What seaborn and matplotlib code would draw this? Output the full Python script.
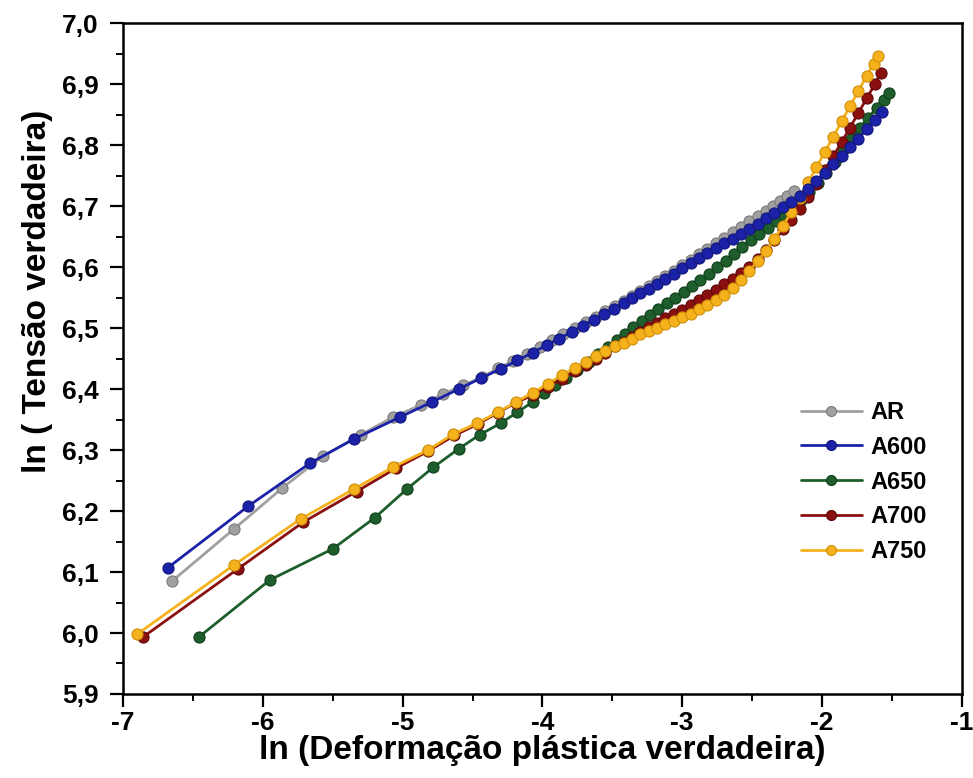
import matplotlib
matplotlib.use("Agg")
import matplotlib.pyplot as plt
import seaborn as sns
import numpy as np
from matplotlib.ticker import MultipleLocator, FixedLocator, FixedFormatter

# ---------------- data ----------------
ar_x = [-6.65, -6.21, -5.86, -5.57, -5.30, -5.07, -4.87, -4.71, -4.57, -4.43, -4.32,
        -4.21, -4.11, -4.02, -3.93, -3.85, -3.77, -3.69, -3.62, -3.55, -3.48, -3.42,
        -3.36, -3.30, -3.24, -3.18, -3.12, -3.06, -3.00, -2.94, -2.88, -2.82, -2.76,
        -2.70, -2.64, -2.58, -2.52, -2.46, -2.40, -2.35, -2.30, -2.25, -2.20]
ar_y = [6.085, 6.170, 6.238, 6.290, 6.325, 6.354, 6.374, 6.392, 6.406, 6.420, 6.434,
        6.446, 6.458, 6.469, 6.480, 6.490, 6.500, 6.510, 6.519, 6.528, 6.537, 6.545,
        6.553, 6.561, 6.569, 6.577, 6.585, 6.594, 6.603, 6.612, 6.621, 6.630, 6.639,
        6.648, 6.657, 6.666, 6.675, 6.684, 6.693, 6.701, 6.709, 6.717, 6.725]

a600_x = [-6.68, -6.105, -5.66, -5.35, -5.02, -4.79, -4.60, -4.44, -4.30, -4.18, -4.07,
          -3.97, -3.88, -3.79, -3.71, -3.63, -3.56, -3.49, -3.42, -3.36, -3.30, -3.24,
          -3.18, -3.12, -3.06, -3.00, -2.94, -2.88, -2.82, -2.76, -2.70, -2.64, -2.58,
          -2.52, -2.46, -2.40, -2.34, -2.28, -2.22, -2.16, -2.10, -2.04, -1.98, -1.92,
          -1.86, -1.80, -1.74, -1.68, -1.62, -1.57]
a600_y = [6.107, 6.208, 6.279, 6.318, 6.354, 6.379, 6.400, 6.418, 6.433, 6.447, 6.460,
          6.472, 6.483, 6.494, 6.504, 6.514, 6.523, 6.532, 6.541, 6.549, 6.557, 6.565,
          6.573, 6.581, 6.589, 6.598, 6.607, 6.615, 6.623, 6.631, 6.639, 6.647, 6.655,
          6.663, 6.671, 6.680, 6.689, 6.698, 6.707, 6.716, 6.728, 6.741, 6.755, 6.769,
          6.783, 6.797, 6.811, 6.826, 6.841, 6.855]

a650_x = [-6.46, -5.95, -5.50, -5.20, -4.97, -4.78, -4.60, -4.45, -4.30, -4.18, -4.07,
          -3.99, -3.91, -3.83, -3.75, -3.67, -3.60, -3.53, -3.47, -3.41, -3.35, -3.29,
          -3.23, -3.17, -3.11, -3.05, -2.99, -2.93, -2.87, -2.81, -2.75, -2.69, -2.63,
          -2.57, -2.51, -2.45, -2.39, -2.33, -2.27, -2.21, -2.15, -2.09, -2.03, -1.97,
          -1.91, -1.85, -1.79, -1.73, -1.67, -1.61, -1.56, -1.52]
a650_y = [5.993, 6.087, 6.138, 6.189, 6.236, 6.272, 6.302, 6.325, 6.344, 6.362, 6.379,
          6.393, 6.406, 6.419, 6.432, 6.445, 6.457, 6.469, 6.480, 6.491, 6.502, 6.512,
          6.522, 6.532, 6.541, 6.550, 6.560, 6.569, 6.579, 6.589, 6.600, 6.611, 6.622,
          6.633, 6.644, 6.654, 6.664, 6.675, 6.686, 6.698, 6.711, 6.724, 6.738, 6.754,
          6.773, 6.792, 6.811, 6.829, 6.845, 6.861, 6.874, 6.885]

a700_x = [-6.86, -6.18, -5.71, -5.33, -5.05, -4.82, -4.63, -4.46, -4.32, -4.19, -4.07,
          -3.96, -3.86, -3.77, -3.69, -3.62, -3.55, -3.48, -3.42, -3.36, -3.30, -3.24,
          -3.18, -3.12, -3.06, -3.00, -2.94, -2.88, -2.82, -2.76, -2.70, -2.64, -2.58,
          -2.52, -2.46, -2.40, -2.34, -2.28, -2.22, -2.16, -2.10, -2.04, -1.98, -1.92,
          -1.86, -1.80, -1.74, -1.68, -1.62, -1.58]
a700_y = [5.993, 6.105, 6.182, 6.232, 6.270, 6.298, 6.324, 6.343, 6.361, 6.378, 6.390,
          6.404, 6.417, 6.429, 6.440, 6.450, 6.460, 6.470, 6.478, 6.486, 6.494, 6.502,
          6.509, 6.516, 6.523, 6.530, 6.538, 6.546, 6.554, 6.563, 6.572, 6.581, 6.590,
          6.601, 6.614, 6.629, 6.645, 6.662, 6.678, 6.696, 6.715, 6.737, 6.760, 6.782,
          6.805, 6.829, 6.853, 6.877, 6.901, 6.918]

a750_x = [-6.90, -6.21, -5.73, -5.35, -5.07, -4.82, -4.64, -4.47, -4.32, -4.19, -4.07,
          -3.96, -3.86, -3.77, -3.69, -3.62, -3.55, -3.48, -3.42, -3.36, -3.30, -3.24,
          -3.18, -3.12, -3.06, -3.00, -2.94, -2.88, -2.82, -2.76, -2.70, -2.64, -2.58,
          -2.52, -2.46, -2.40, -2.34, -2.28, -2.22, -2.16, -2.10, -2.04, -1.98, -1.92,
          -1.86, -1.80, -1.74, -1.68, -1.63, -1.60]
a750_y = [5.998, 6.111, 6.187, 6.236, 6.272, 6.300, 6.326, 6.344, 6.362, 6.379, 6.394,
          6.409, 6.423, 6.435, 6.445, 6.454, 6.462, 6.470, 6.476, 6.483, 6.490, 6.496,
          6.501, 6.507, 6.512, 6.518, 6.524, 6.531, 6.538, 6.546, 6.555, 6.566, 6.579,
          6.594, 6.610, 6.627, 6.647, 6.668, 6.690, 6.714, 6.739, 6.764, 6.789, 6.814,
          6.839, 6.864, 6.889, 6.914, 6.934, 6.947]

series_names = ["AR", "A600", "A650", "A700", "A750"]
series_x = [ar_x, a600_x, a650_x, a700_x, a750_x]
series_y = [ar_y, a600_y, a650_y, a700_y, a750_y]

x_ticks = [-7, -6, -5, -4, -3, -2, -1]
x_tick_labels = ["-7", "-6", "-5", "-4", "-3", "-2", "-1"]
y_ticks = [5.9, 6.0, 6.1, 6.2, 6.3, 6.4, 6.5, 6.6, 6.7, 6.8, 6.9, 7.0]
y_tick_labels = ["5,9", "6,0", "6,1", "6,2", "6,3", "6,4", "6,5", "6,6", "6,7", "6,8", "6,9", "7,0"]

x_label = "ln (Deformação plástica verdadeira)"
y_label = "ln ( Tensão verdadeira)"

# ---------------- styling ----------------
colors = {"AR": "#a0a0a0", "A600": "#1c22a8", "A650": "#1d5e2c",
          "A700": "#8a0f0f", "A750": "#f6b21c"}
edge = {"AR": "#7a7a7a", "A600": "#12177a", "A650": "#123f1c",
        "A700": "#5e0808", "A750": "#d08f0a"}
zorders = {"AR": 5, "A600": 6, "A650": 2, "A700": 3, "A750": 4}

sns.set_style("ticks")
plt.rcParams["font.family"] = ["Liberation Sans", "DejaVu Sans"]
plt.rcParams["font.weight"] = "bold"
plt.rcParams["text.color"] = "black"
plt.rcParams["axes.labelcolor"] = "black"
plt.rcParams["xtick.color"] = "black"
plt.rcParams["ytick.color"] = "black"

fig = plt.figure(figsize=(9.73, 7.78), dpi=100)
ax = fig.add_axes([0.1265, 0.108, 0.862, 0.862])

for name, xs, ys in zip(series_names, series_x, series_y):
    sns.lineplot(x=xs, y=ys, ax=ax, color=colors[name], marker="o",
                 markersize=8, markeredgecolor=edge[name], markeredgewidth=0.8,
                 linewidth=2.0, sort=False, estimator=None, label=name,
                 zorder=zorders[name])

ax.set_xlim(-7, -1)
ax.set_ylim(5.9, 7.0)
ax.xaxis.set_major_locator(FixedLocator(x_ticks))
ax.xaxis.set_major_formatter(FixedFormatter(x_tick_labels))
ax.yaxis.set_major_locator(FixedLocator(y_ticks))
ax.yaxis.set_major_formatter(FixedFormatter(y_tick_labels))
ax.xaxis.set_minor_locator(MultipleLocator(0.5))
ax.yaxis.set_minor_locator(MultipleLocator(0.05))

for s in ax.spines.values():
    s.set_linewidth(1.8)
    s.set_color("black")
ax.tick_params(which="major", direction="out", length=9.5, width=1.6,
               labelsize=19, top=False, right=False,
               colors="black", labelcolor="black")
ax.tick_params(axis="y", which="major", pad=8)
ax.tick_params(axis="x", which="major", pad=3)
ax.tick_params(which="minor", direction="out", length=5, width=1.4,
               top=False, right=False, colors="black")
for lab in ax.get_xticklabels() + ax.get_yticklabels():
    lab.set_fontweight("bold")

ax.set_xlabel(x_label, fontsize=24, fontweight="bold", labelpad=0, color="black")
ax.set_ylabel(y_label, fontsize=24, fontweight="bold", color="black")
ax.yaxis.set_label_coords(-0.083, 0.60)

leg = ax.legend(loc="center left", bbox_to_anchor=(0.808, 0.316), frameon=False,
                fontsize=17, handlelength=2.6, handletextpad=0.34,
                labelspacing=0.5, borderaxespad=0.0, borderpad=0.0,
                markerscale=0.9)
for t in leg.get_texts():
    t.set_fontweight("bold")
    t.set_color("black")

fig.savefig("out.png", dpi=100, facecolor="white")
